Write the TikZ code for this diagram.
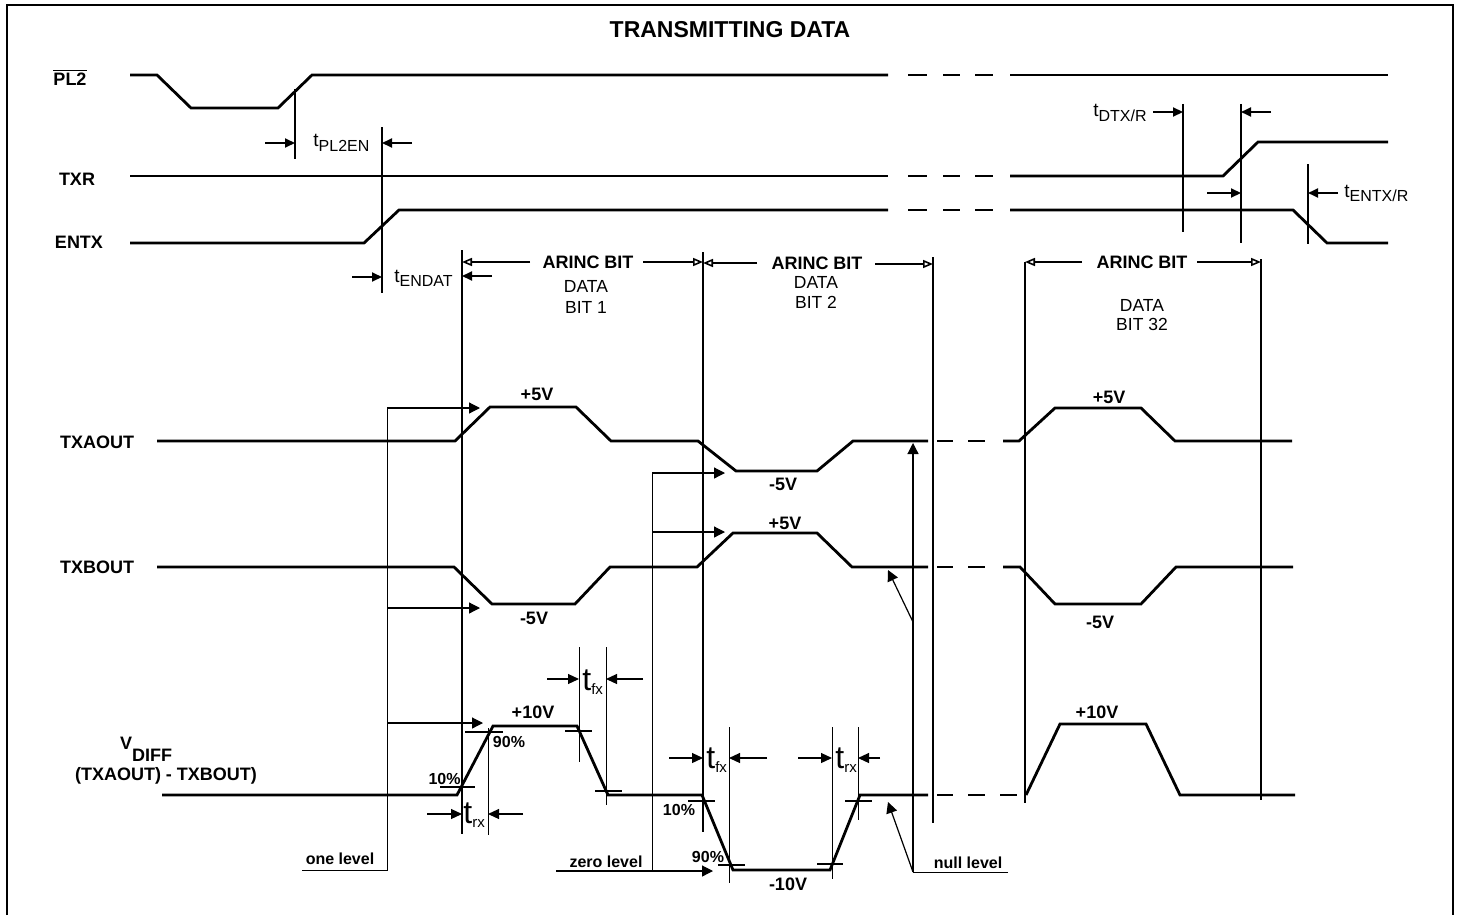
\documentclass[tikz,border=0pt]{standalone}
\usepackage{fontspec}
\setmainfont{Liberation Sans}
\usetikzlibrary{arrows.meta}

% delay label: t with a lowered subscript
\newcommand{\tdly}[1]{t\raisebox{-2pt}{\fontsize{8}{8}\selectfont #1}}
% edge label: big t with a small subscript
\newcommand{\tedge}[1]{{\fontsize{16}{16}\selectfont t}\raisebox{-2pt}{\fontsize{7.5}{7.5}\selectfont #1}}

\begin{document}
\begin{tikzpicture}[
  x=0.5pt, y=-0.5pt,
  every node/.style={inner sep=0pt},
  sig/.style={line width=1.4pt, line join=miter},
  bitline/.style={line width=1.3pt},
  hair/.style={line width=0.5pt},
  tarrow/.style={line width=1pt, -{Triangle[length=5pt,width=4.5pt]}},
  earrow/.style={line width=0.6pt, -{Triangle[length=5.5pt,width=5pt]}},
  parrow/.style={line width=0.6pt, -{Triangle[length=5.5pt,width=5.5pt]}},
  barrow/.style={line width=0.8pt, -{Triangle[open,length=5pt,width=4pt]}},
  lbl/.style={font=\bfseries\fontsize{9}{10}\selectfont},
  volt/.style={font=\bfseries\fontsize{9}{10}\selectfont},
  pct/.style={font=\bfseries\fontsize{8}{9}\selectfont},
  dlab/.style={font=\fontsize{8.75}{10}\selectfont},
  dly/.style={font=\fontsize{9.5}{10}\selectfont}]

  \useasboundingbox (0,0) rectangle (1460,915);

  % --- frame and title ---
  \draw[line width=1.4pt] (7,915) -- (7,5) -- (1453,5) -- (1453,915);
  \node[font=\bfseries\fontsize{11.5}{12}\selectfont] (title) at (730,30) {TRANSMITTING DATA};

  % --- signal names ---
  \node[lbl] (pl2)  at (70,77)  {$\overline{\mbox{\bfseries PL2}}$};
  \node[lbl] (txr)  at (77,179) {TXR};
  \node[lbl] (entx) at (79,242) {ENTX};
  \node[lbl] (txa)  at (97,442) {TXAOUT};
  \node[lbl] (txb)  at (97,567) {TXBOUT};
  \node[lbl] (vd)   at (146,749) {V\raisebox{-6pt}{DIFF}};
  \node[lbl] (vd2)  at (166,776) {(TXAOUT) - TXBOUT)};

  % --- control lines ---
  \draw[sig] (130,75) -- (157,75) -- (191,108) -- (278,108) -- (312,75) -- (888,75);
  \draw[sig] (1010,75) -- (1388,75);
  \draw[sig] (130,176) -- (888,176);
  \draw[sig] (1010,176) -- (1223,176) -- (1258,142) -- (1388,142);
  \draw[sig] (130,243) -- (364,243) -- (399,210) -- (888,210);
  \draw[sig] (1010,210) -- (1293,210) -- (1327,243) -- (1388,243);
  \foreach \y in {75,176,210}
    \foreach \a/\b in {908/927,943/960,975/993}
      \draw[sig] (\a,\y) -- (\b,\y);

  % --- tPL2EN and tENDAT ---
  \draw[bitline] (295,89) -- (295,159);
  \draw[bitline] (382,127) -- (382,293);
  \draw[tarrow] (265,143) -- (295,143);
  \draw[tarrow] (412,143) -- (382,143);
  \node[dly, anchor=base west] (tpl) at (313,147) {\tdly{PL2EN}};
  \draw[tarrow] (352,277) -- (382,277);
  \draw[tarrow] (492,276) -- (462,276);
  \node[dly, anchor=base west] (ten) at (394,282) {\tdly{ENDAT}};

  % --- tDTX/R and tENTX/R ---
  \draw[bitline] (1183,104) -- (1183,232);
  \draw[bitline] (1241,104) -- (1241,243);
  \draw[bitline] (1308,164) -- (1308,244);
  \draw[tarrow] (1153,112) -- (1183,112);
  \draw[tarrow] (1271,112) -- (1241,112);
  \node[dly, anchor=base east] (tdt) at (1147,117) {\tdly{DTX/R}};
  \draw[tarrow] (1207,193) -- (1241,193);
  \draw[tarrow] (1338,193) -- (1308,193);
  \node[dly, anchor=base west] (tet) at (1344,197) {\tdly{ENTX/R}};

  % --- ARINC bit boundaries ---
  \draw[bitline] (462,250) -- (462,834);
  \draw[bitline] (703,252) -- (703,832);
  \draw[bitline] (933,257) -- (933,823);
  \draw[bitline] (1025,262) -- (1025,803);
  \draw[bitline] (1261,259) -- (1261,800);
  \draw[barrow] (530,262) -- (462,262);
  \draw[barrow] (643,262) -- (703,262);
  \node[lbl] (arb1) at (588,262) {ARINC BIT};
  \node[dlab] (db1a) at (586,286) {DATA};
  \node[dlab] (db1b) at (586,307) {BIT 1};
  \draw[barrow] (757,263) -- (703,263);
  \draw[barrow] (875,264) -- (933,264);
  \node[lbl] (arb2) at (817,263) {ARINC BIT};
  \node[dlab] (db2a) at (816,282) {DATA};
  \node[dlab] (db2b) at (816,302) {BIT 2};
  \draw[barrow] (1082,262) -- (1025,262);
  \draw[barrow] (1197,262) -- (1261,262);
  \node[lbl] (arb3) at (1142,262) {ARINC BIT};
  \node[dlab] (db3a) at (1142,305) {DATA};
  \node[dlab] (db3b) at (1142,324) {BIT 32};

  % --- TXAOUT ---
  \draw[sig] (157,441) -- (455,441) -- (490,407) -- (576,407) -- (611,441) -- (698,441)
    -- (736,471) -- (817,471) -- (853,441) -- (928,441);
  \draw[sig] (1003,441) -- (1019,441) -- (1055,408) -- (1141,408) -- (1175,441) -- (1292,441);
  \node[volt] (a1) at (537,394) {+5V};
  \node[volt] (a2) at (783,484) {-5V};
  \node[volt] (a3) at (1109,397) {+5V};

  % --- TXBOUT ---
  \draw[sig] (157,567) -- (454,567) -- (492,604) -- (575,604) -- (610,567) -- (697,567)
    -- (733,533) -- (817,533) -- (852,567) -- (928,567);
  \draw[sig] (1003,567) -- (1020,567) -- (1055,604) -- (1141,604) -- (1176,567) -- (1293,567);
  \node[volt] (b1) at (534,618) {-5V};
  \node[volt] (b2) at (785,523) {+5V};
  \node[volt] (b3) at (1100,622) {-5V};

  % --- VDIFF ---
  \draw[sig] (162,795) -- (457,795) -- (493,726) -- (577,726) -- (608,795) -- (702,795)
    -- (733,870) -- (830,870) -- (860,795) -- (928,795);
  \draw[sig] (1026,795) -- (1060,724) -- (1146,724) -- (1180,795) -- (1295,795);
  \foreach \y in {441,567}
    \foreach \a/\b in {937/953,968/985}
      \draw[sig] (\a,\y) -- (\b,\y);
  \foreach \a/\b in {937/953,968/985,1000/1017}
    \draw[sig] (\a,795) -- (\b,795);
  \node[volt] (d1) at (533,712) {+10V};
  \node[volt] (d2) at (788,884) {-10V};
  \node[volt] (d3) at (1097,712) {+10V};

  % --- 10% / 90% ticks ---
  \draw[line width=1pt] (440,787) -- (475,787);
  \draw[line width=1pt] (465,732) -- (503,732);
  \draw[line width=1pt] (565,731) -- (592,731);
  \draw[line width=1pt] (595,791) -- (622,791);
  \draw[line width=1pt] (688,801) -- (715,801);
  \draw[line width=1pt] (718,865) -- (745,865);
  \draw[line width=1pt] (817,864) -- (843,864);
  \draw[line width=1pt] (845,801) -- (872,801);
  \node[pct, anchor=east] (p1) at (461,779) {10\%};
  \node[pct] (p2) at (509,742) {90\%};
  \node[pct] (p3) at (679,810) {10\%};
  \node[pct] (p4) at (708,857) {90\%};

  % --- rise / fall times ---
  \draw[hair] (488,728) -- (488,835);
  \draw[hair] (579,647) -- (579,762);
  \draw[hair] (606,647) -- (606,805);
  \draw[hair] (729,727) -- (729,883);
  \draw[hair] (832,727) -- (832,879);
  \draw[hair] (858,727) -- (858,820);
  \draw[earrow] (427,814) -- (462,814);
  \draw[earrow] (523,814) -- (488,814);
  \node[anchor=base west] (tr1) at (463,823) {\tedge{rx}};
  \draw[earrow] (547,679) -- (579,679);
  \draw[earrow] (643,679) -- (606,679);
  \node[anchor=base west] (tf1) at (582,690) {\tedge{fx}};
  \draw[earrow] (669,758) -- (703,758);
  \draw[earrow] (767,758) -- (729,758);
  \node[anchor=base west] (tf2) at (706,768) {\tedge{fx}};
  \draw[earrow] (798,758) -- (832,758);
  \draw[earrow] (880,758) -- (858,758);
  \node[anchor=base west] (tr2) at (835,768) {\tedge{rx}};

  % --- one / zero / null level pointers ---
  \draw[hair] (302,870) -- (387,870) -- (387,408);
  \draw[parrow] (387,408) -- (480,408);
  \draw[parrow] (387,608) -- (480,608);
  \draw[parrow] (387,723) -- (483,723);
  \node[pct] (one) at (340,859) {one level};
  \draw[hair] (652,871) -- (652,473);
  \draw[parrow] (556,871) -- (713,871);
  \draw[parrow] (652,473) -- (725,473);
  \draw[parrow] (652,532) -- (725,532);
  \node[pct] (zero) at (606,862) {zero level};
  \draw[hair] (1008,872) -- (913,872);
  \draw[parrow] (913,872) -- (913,443);
  \draw[parrow] (913,622) -- (888,570);
  \draw[parrow] (913,872) -- (888,802);
  \node[pct] (null) at (968,863) {null level};

\end{tikzpicture}
\end{document}
